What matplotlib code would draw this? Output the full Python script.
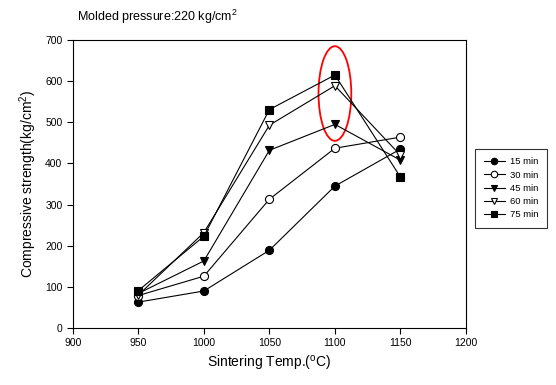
import matplotlib
matplotlib.use("Agg")
import matplotlib.pyplot as plt
from matplotlib.patches import Ellipse

plt.rcParams['font.family'] = ['Liberation Sans', 'DejaVu Sans']

temps = [950, 1000, 1050, 1100, 1150]
s15 = [63, 90, 189, 345, 435]
s30 = [79, 126, 313, 437, 464]
s45 = [84, 163, 432, 495, 408]
s60 = [80, 232, 493, 589, 420]
s75 = [91, 223, 531, 615, 367]
labels = ['15 min', '30 min', '45 min', '60 min', '75 min']

fig = plt.figure(figsize=(5.56, 3.85), dpi=100)
ax = fig.add_axes([0.131, 0.148, 0.707, 0.748])

styles = [('o', 'black'), ('o', 'white'), ('v', 'black'), ('v', 'white'), ('s', 'black')]
for ys, lab, (m, fc) in zip([s15, s30, s45, s60, s75], labels, styles):
    ax.plot(temps, ys, color='black', lw=0.8, marker=m, markersize=5.8,
            markerfacecolor=fc, markeredgecolor='black', markeredgewidth=0.8, label=lab)

ax.add_patch(Ellipse((1100, 570), 25, 230, fill=False, edgecolor='red', lw=1.3))

ax.set_xlim(900, 1200)
ax.set_ylim(0, 700)
ax.set_xticks(range(900, 1201, 50))
ax.set_yticks(range(0, 701, 100))
ax.tick_params(labelsize=7.5, direction='out', length=4, width=0.8)
for sp in ax.spines.values():
    sp.set_linewidth(0.8)

ax.set_xlabel('Sintering Temp.($^\\mathregular{o}$C)', fontsize=10)
ax.set_ylabel('Compressive strength(kg/cm$^\\mathregular{2}$)', fontsize=10)
fig.text(0.138, 0.955, 'Molded pressure:220 kg/cm$^\\mathregular{2}$', fontsize=9, va='center')

leg = ax.legend(loc='center left', bbox_to_anchor=(1.012, 0.485), fontsize=6.8,
                frameon=True, fancybox=False, edgecolor='black', handlelength=2.2,
                borderpad=0.9, labelspacing=0.45, markerscale=0.8, handletextpad=0.6)
leg.get_frame().set_linewidth(0.8)

fig.savefig('out.png', dpi=100)
